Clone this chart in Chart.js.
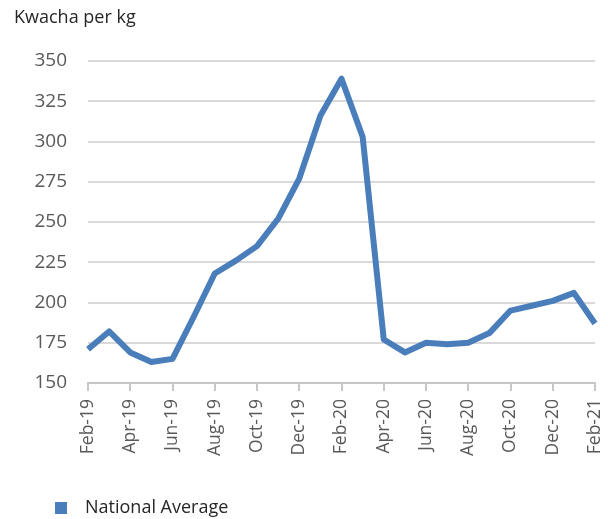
<!DOCTYPE html>
<html>
<head>
<meta charset="utf-8">
<script src="https://cdn.jsdelivr.net/npm/chart.js@4/dist/chart.umd.min.js"></script>
<style>
  html, body { margin: 0; padding: 0; background: #ffffff; }
  #wrap { width: 608px; height: 519px; position: relative; }
</style>
</head>
<body>
<div id="wrap"><canvas id="c" width="608" height="519"></canvas></div>
<script>
const months = ['Feb-19','Mar-19','Apr-19','May-19','Jun-19','Jul-19','Aug-19','Sep-19','Oct-19','Nov-19','Dec-19','Jan-20',
                'Feb-20','Mar-20','Apr-20','May-20','Jun-20','Jul-20','Aug-20','Sep-20','Oct-20','Nov-20','Dec-20','Jan-21','Feb-21'];
const nationalAverage = [171, 182, 169, 163, 165, 191, 218, 226, 235, 252, 277, 316,
                         339, 303, 177, 169, 175, 174, 175, 181, 195, 198, 201, 206, 187];
const seriesName = 'National Average';
const unitLabel = 'Kwacha per kg';
const yMin = 150, yMax = 350, yStep = 25;

const BLUE = '#4a7ebb';
const FONT = "'Open Sans', 'Noto Sans', sans-serif";

// small square used as the legend marker
const marker = document.createElement('canvas');
marker.width = 12; marker.height = 12;
const mctx = marker.getContext('2d');
mctx.fillStyle = BLUE;
mctx.fillRect(0, 0, 12, 12);

const legendPlacer = {
  id: 'legendPlacer',
  afterLayout(chart) {
    const lg = chart.legend;
    if (!lg) return;
    const p = lg.options.labels.padding;
    const itemH = 18;
    const targetCenter = 508;
    const dy = targetCenter - (lg.top + p + itemH / 2);
    lg.top += dy; lg.bottom += dy;
    const w = lg.right - lg.left;
    lg.left = 45 - p; lg.right = lg.left + w;
  }
};

new Chart(document.getElementById('c'), {
  type: 'line',
  data: {
    labels: months,
    datasets: [{
      label: seriesName,
      data: nationalAverage,
      borderColor: BLUE,
      backgroundColor: BLUE,
      borderWidth: 6,
      pointRadius: 0,
      pointHoverRadius: 0,
      tension: 0,
      borderJoinStyle: 'round',
      borderCapStyle: 'butt',
      fill: false,
      pointStyle: marker
    }]
  },
  options: {
    responsive: false,
    animation: false,
    events: [],
    layout: { padding: { left: 14, right: 13, top: 6, bottom: 0 } },
    plugins: {
      title: {
        display: true,
        text: unitLabel,
        align: 'start',
        color: '#262626',
        font: { family: FONT, size: 18, weight: 'normal' },
        padding: { top: 1, bottom: 32.4 }
      },
      legend: {
        position: 'bottom',
        align: 'start',
        labels: {
          usePointStyle: true,
          pointStyleWidth: 31,
          boxHeight: 12,
          padding: 6,
          color: '#262626',
          font: { family: FONT, size: 18 }
        }
      },
      tooltip: { enabled: false }
    },
    scales: {
      x: {
        offset: false,
        grid: { drawOnChartArea: false, drawTicks: true, tickLength: 8, color: '#c8c8c8', lineWidth: 2 },
        border: { display: true, color: '#c8c8c8', width: 2 },
        ticks: {
          autoSkip: false,
          minRotation: 90,
          maxRotation: 90,
          padding: 8,
          color: '#595959',
          font: { family: FONT, size: 17.5 },
          callback: function(v, i) { return i % 2 === 0 ? this.getLabelForValue(v) : null; }
        },
        afterFit(scale) { scale.height = 102; scale.paddingRight = 0; scale.paddingLeft = 0; }
      },
      y: {
        min: yMin,
        max: yMax,
        grid: { color: '#d9d9d9', lineWidth: 2, drawTicks: false },
        border: { display: false },
        ticks: {
          stepSize: yStep,
          padding: 21,
          color: '#595959',
          font: { family: FONT, size: 19 }
        },
        afterFit(scale) { scale.width = 74; }
      }
    }
  },
  plugins: [legendPlacer]
});
</script>
</body>
</html>
